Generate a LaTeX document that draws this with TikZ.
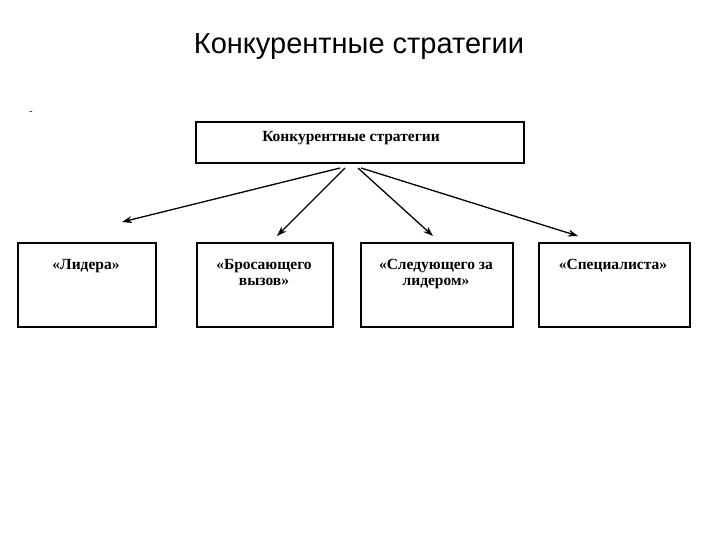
\documentclass[tikz,border=0pt]{standalone}
\usepackage{fontspec}
\setmainfont{Liberation Serif}
\newfontfamily\arialf{Liberation Sans}
\usetikzlibrary{arrows.meta}
\begin{document}
\begin{tikzpicture}[x=1pt,y=-1pt,
  box/.style={draw,line width=1.8pt,align=center,anchor=north west,inner sep=0pt},
  lbl/.style={font=\fontsize{15.5}{16}\selectfont\bfseries,align=center,anchor=north},
  arr/.style={line width=1.3pt,-{Stealth[length=10pt,width=7pt]}}]
\useasboundingbox (0,0) rectangle (720,540);
\node[font=\arialf\fontsize{29}{31}\selectfont] (title) at (359,47) {Конкурентные стратегии};
\node[font=\fontsize{10}{10}\selectfont] (dash) at (31,113) {-};
\node[box,minimum width=328pt,minimum height=41pt] (top) at (195,121) {};
\node[lbl] (toplbl) at (351,128) {Конкурентные стратегии};
\node[box,minimum width=138pt,minimum height=84pt] (b1) at (17,242) {};
\node[box,minimum width=136pt,minimum height=84pt] (b2) at (196,242) {};
\node[box,minimum width=152pt,minimum height=84pt] (b3) at (360,242) {};
\node[box,minimum width=151pt,minimum height=84pt] (b4) at (538,242) {};
\node[lbl] (t1) at (86,256) {«Лидера»};
\node[lbl] (t2) at (264,256) {«Бросающего\\вызов»};
\node[lbl] (t3) at (436,256) {«Следующего за\\лидером»};
\node[lbl] (t4) at (613,256) {«Специалиста»};
\coordinate (s1) at (340,168); \coordinate (e1) at (122,222);
\coordinate (s2) at (345,168); \coordinate (e2) at (277,236);
\coordinate (s3) at (358,168); \coordinate (e3) at (433,236);
\coordinate (s4) at (361,168); \coordinate (e4) at (578,236);
\draw[arr] (s1) -- (e1);
\draw[arr] (s2) -- (e2);
\draw[arr] (s3) -- (e3);
\draw[arr] (s4) -- (e4);
\end{tikzpicture}
\end{document}
